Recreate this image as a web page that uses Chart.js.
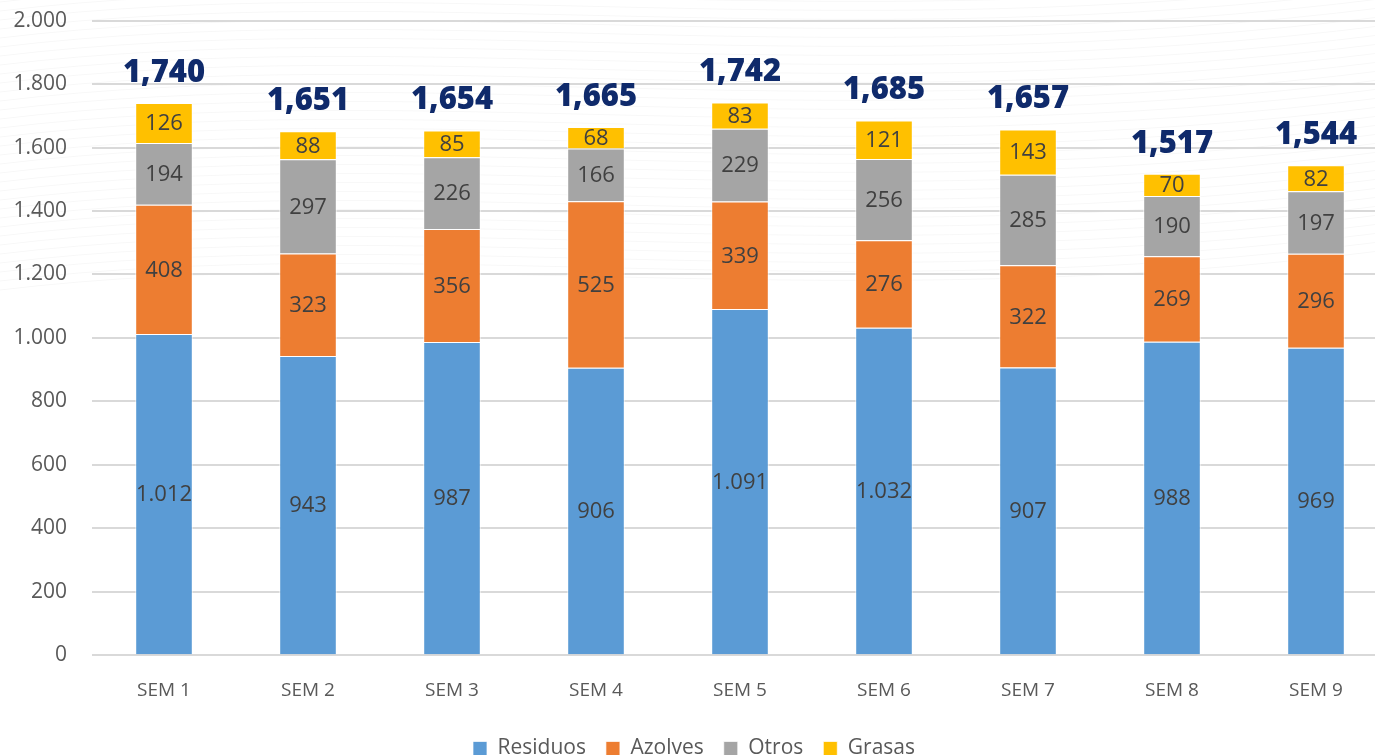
<!DOCTYPE html>
<html>
<head>
<meta charset="utf-8">
<script src="https://cdn.jsdelivr.net/npm/chart.js@4"></script>
<style>
  html, body { margin: 0; padding: 0; background: #fff; overflow: hidden; }
  #wrap { position: relative; width: 1388px; height: 786px; margin-top: -17px; }
</style>
</head>
<body>
<div id="wrap"><canvas id="chart"></canvas></div>
<script>
const categories = ['SEM 1', 'SEM 2', 'SEM 3', 'SEM 4', 'SEM 5', 'SEM 6', 'SEM 7', 'SEM 8', 'SEM 9'];
const residuos = [1012, 943, 987, 906, 1091, 1032, 907, 988, 969];
const azolves = [408, 323, 356, 525, 339, 276, 322, 269, 296];
const otros = [194, 297, 226, 166, 229, 256, 285, 190, 197];
const grasas = [126, 88, 85, 68, 83, 121, 143, 70, 82];
const totals = [1740, 1651, 1654, 1665, 1742, 1685, 1657, 1517, 1544];

const FONT = '"Open Sans", "Noto Sans", sans-serif';

function dotThousands(v) {
  return String(v).replace(/\B(?=(\d{3})+(?!\d))/g, '.');
}
function commaThousands(v) {
  return String(v).replace(/\B(?=(\d{3})+(?!\d))/g, ',');
}

// faint wavy lines behind the plot
const wavesBg = {
  id: 'wavesBg',
  beforeDraw(chart) {
    const ctx = chart.ctx;
    const w = chart.width;
    ctx.save();
    ctx.strokeStyle = 'rgba(0,0,0,0.03)';
    ctx.lineWidth = 1;
    for (let i = 0; i < 34; i++) {
      const y0 = -20 + i * 9;
      ctx.beginPath();
      ctx.moveTo(0, y0 + 30);
      ctx.bezierCurveTo(w * 0.3, y0 - 20, w * 0.6, y0 + 60, w, y0 - 10);
      ctx.stroke();
    }
    ctx.restore();
  }
};

// value labels inside segments + bold totals above bars
const barLabels = {
  id: 'barLabels',
  afterDatasetsDraw(chart) {
    const ctx = chart.ctx;
    ctx.save();
    ctx.textAlign = 'center';
    ctx.textBaseline = 'middle';
    ctx.font = '22px ' + FONT;
    ctx.fillStyle = '#404040';
    chart.data.datasets.forEach((ds, di) => {
      const meta = chart.getDatasetMeta(di);
      meta.data.forEach((bar, i) => {
        const mid = (bar.y + bar.base) / 2;
        ctx.fillText(dotThousands(ds.data[i]), bar.x, mid + 1);
      });
    });
    const top = chart.getDatasetMeta(chart.data.datasets.length - 1);
    ctx.font = '800 31px ' + FONT;
    ctx.fillStyle = '#0f2a6b';
    top.data.forEach((bar, i) => {
      ctx.fillText(commaThousands(totals[i]), bar.x, bar.y - 30);
    });
    ctx.restore();
  }
};

function ds(label, data, color) {
  return {
    label: label,
    data: data,
    backgroundColor: color,
    borderColor: 'rgba(255,255,255,0.7)',
    borderWidth: 1,
    barPercentage: 0.4,
    categoryPercentage: 1.0
  };
}

new Chart(document.getElementById('chart'), {
  type: 'bar',
  data: {
    labels: categories,
    datasets: [
      ds('Residuos', residuos, '#5b9bd5'),
      ds('Azolves', azolves, '#ed7d31'),
      ds('Otros', otros, '#a5a5a5'),
      ds('Grasas', grasas, '#ffc000')
    ]
  },
  options: {
    responsive: true,
    maintainAspectRatio: false,
    animation: false,
    layout: { padding: { top: 0, left: 0, right: 0, bottom: 0 } },
    scales: {
      x: {
        stacked: true,
        grid: { display: false },
        border: { display: false },
        ticks: { color: '#595959', font: { family: FONT, size: 19 }, padding: 16 }
      },
      y: {
        stacked: true,
        min: 0,
        max: 2000,
        border: { display: false },
        grid: { color: '#d9d9d9', lineWidth: 2, drawTicks: false },
        afterFit: scale => { scale.width = 92; },
        ticks: {
          stepSize: 200,
          color: '#595959',
          font: { family: FONT, size: 21 },
          padding: 25,
          callback: v => dotThousands(v)
        }
      }
    },
    plugins: {
      legend: {
        position: 'bottom',
        labels: {
          boxWidth: 14,
          boxHeight: 14,
          padding: 20,
          color: '#595959',
          font: { family: FONT, size: 21 }
        }
      },
      tooltip: { enabled: false }
    }
  },
  plugins: [wavesBg, barLabels]
});
</script>
</body>
</html>
